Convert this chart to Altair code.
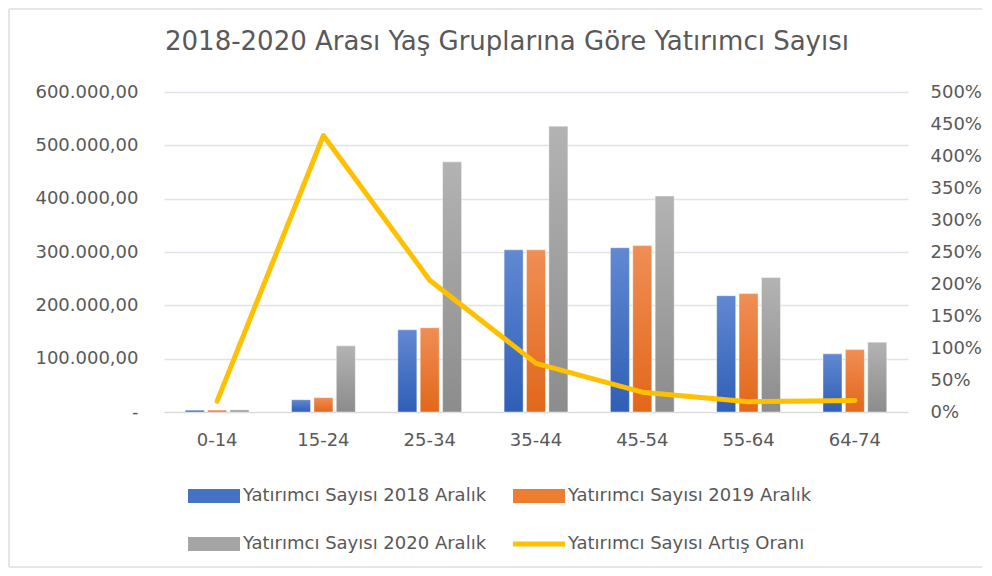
import altair as alt
import pandas as pd

categories = ["0-14", "15-24", "25-34", "35-44", "45-54", "55-64", "64-74"]
s2018 = [3500, 23000, 154000, 304000, 308000, 218000, 109000]
s2019 = [3600, 27000, 158000, 304000, 312000, 222000, 117000]
s2020 = [4100, 124000, 469000, 536000, 405000, 252000, 131000]
growth_pct = [17, 432, 206, 76, 31, 16, 18]

bar_names = ["Yatırımcı Sayısı 2018 Aralık", "Yatırımcı Sayısı 2019 Aralık", "Yatırımcı Sayısı 2020 Aralık"]
line_name = "Yatırımcı Sayısı Artış Oranı"
all_names = bar_names + [line_name]
legend_colors = ["#4472c4", "#ed7d31", "#a5a5a5", "#ffc000"]
grad_top = ["#6188d2", "#f08e55", "#b3b3b3"]
grad_bot = ["#2f5fb6", "#e2671a", "#8c8c8c"]

FONT = "DejaVu Sans"
TXT = "#595959"
FS = 18

rows = []
for name, vals in zip(bar_names, [s2018, s2019, s2020]):
    for c, v in zip(categories, vals):
        rows.append({"grup": c, "seri": name, "deger": v})
bars_df = pd.DataFrame(rows)
line_df = pd.DataFrame({"grup": categories, "oran": growth_pct})
legend_df = pd.DataFrame({"seri": all_names})

x_enc = alt.X(
    "grup:N",
    sort=categories,
    scale=alt.Scale(domain=categories, paddingInner=0.4, paddingOuter=0.2),
    axis=alt.Axis(title=None, labelAngle=0, ticks=False, domainColor="#d9d9d9",
                  labelColor=TXT, labelFontSize=FS, labelFont=FONT, labelPadding=19),
)
xoff_enc = alt.XOffset("seri:N", scale=alt.Scale(domain=bar_names, paddingInner=0.15))
y_left = alt.Y(
    "deger:Q",
    scale=alt.Scale(domain=[0, 600000], nice=False),
    axis=alt.Axis(
        title=None,
        values=[0, 100000, 200000, 300000, 400000, 500000, 600000],
        labelExpr="datum.value == 0 ? '-\u00a0\u00a0\u00a0\u00a0' : format(datum.value/1000,'d') + '.000,00'",
        domain=False, ticks=False, gridColor="#dfe3ea", gridWidth=1.3,
        labelPadding=26, labelColor=TXT, labelFontSize=FS, labelFont=FONT,
    ),
)

bar_layers = []
for i, name in enumerate(bar_names):
    grad = alt.Gradient(
        gradient="linear",
        stops=[alt.GradientStop(color=grad_top[i], offset=0),
               alt.GradientStop(color=grad_bot[i], offset=1)],
        x1=0, x2=0, y1=0, y2=1,
    )
    bar_layers.append(
        alt.Chart(bars_df)
        .transform_filter(alt.datum.seri == name)
        .mark_bar(color=grad, stroke="#ffffff", strokeWidth=0.6, strokeOpacity=0.7)
        .encode(x=x_enc, xOffset=xoff_enc, y=y_left)
    )
bars = alt.layer(*bar_layers)

line = alt.Chart(line_df).mark_line(color="#ffc000", strokeWidth=5, strokeCap="round", strokeJoin="round").encode(
    x=alt.X("grup:N", sort=categories),
    y=alt.Y(
        "oran:Q",
        scale=alt.Scale(domain=[0, 500], nice=False),
        axis=alt.Axis(
            orient="right", title=None, values=list(range(0, 501, 50)),
            labelExpr="datum.value + '%'", grid=False, domain=False, ticks=False,
            labelPadding=22, labelColor=TXT, labelFontSize=FS, labelFont=FONT,
        ),
    ),
)

rect_path = "M-1,-0.27H1V0.27H-1Z"
thin_path = "M-1,-0.1H1V0.1H-1Z"
leg = alt.Legend(
    title=None, orient="none", legendX=24, legendY=378, columns=2, direction="horizontal",
    labelFontSize=FS, labelFont=FONT, labelColor=TXT, labelOffset=3, labelLimit=400,
    symbolSize=2704, symbolStrokeWidth=0, columnPadding=26, rowPadding=13,
)
legend_layer = (
    alt.Chart(legend_df)
    .transform_filter("false")
    .mark_point(filled=True, opacity=1)
    .encode(
        color=alt.Color("seri:N", scale=alt.Scale(domain=all_names, range=legend_colors), legend=leg),
        shape=alt.Shape("seri:N", scale=alt.Scale(domain=all_names, range=[rect_path, rect_path, rect_path, thin_path]), legend=leg),
    )
)

frame_df = pd.DataFrame({"a": [0]})
frame_style = dict(color="#e3e7ed", strokeWidth=2, clip=False)
frame_top = alt.Chart(frame_df).mark_rule(**frame_style).encode(
    x=alt.value(-155), x2=alt.value(818), y=alt.value(-83))
frame_left = alt.Chart(frame_df).mark_rule(**frame_style).encode(
    x=alt.value(-155), y=alt.value(-83), y2=alt.value(475))
frame_bottom = alt.Chart(frame_df).mark_rule(**frame_style).encode(
    x=alt.value(-155), x2=alt.value(818), y=alt.value(475))

chart = (
    alt.layer(frame_top, frame_left, frame_bottom, bars, line, legend_layer)
    .resolve_scale(y="independent")
    .properties(
        width=744, height=320,
        autosize=alt.AutoSizeParams(type="none"),
        padding={"left": 156, "top": 84, "right": 76, "bottom": 156},
        title=alt.TitleParams(
            "2018-2020 Arası Yaş Gruplarına Göre Yatırımcı Sayısı",
            font=FONT, fontSize=26, fontWeight="normal", color=TXT,
            anchor="middle", frame="group", dx=-29, offset=0, dy=47,
        ),
        background="white",
    )
    .configure_view(stroke=None)
)

chart.save("out.html", embed_options={"renderer": "svg", "actions": False})
